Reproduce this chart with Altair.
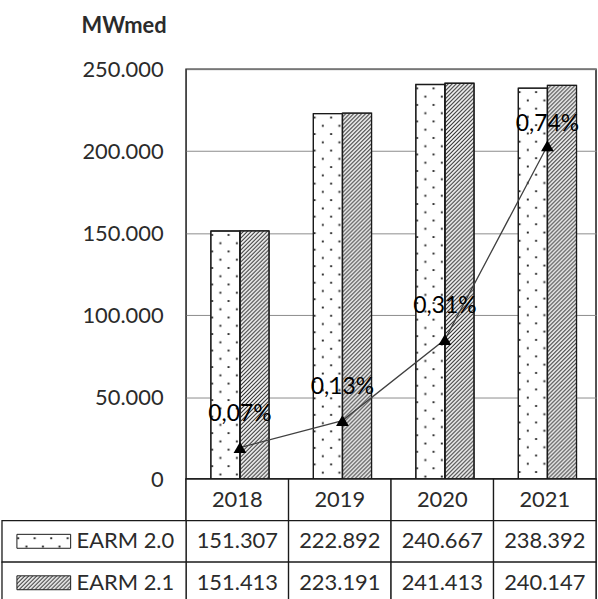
import base64
import altair as alt
import pandas as pd

# ---------------- data ----------------
years = ["2018", "2019", "2020", "2021"]
series_names = ["EARM 2.0", "EARM 2.1"]
earm_20 = [151307, 222892, 240667, 238392]
earm_21 = [151413, 223191, 241413, 240147]
diff_pct = [0.07, 0.13, 0.31, 0.74]
y_ticks = [0, 50000, 100000, 150000, 200000, 250000]
y_title = "MWmed"

# ---------------- style ----------------
FONT = "Lato"
FS = 22
TXT = "#2b2b2b"
INK = "#1a1a1a"


def svg_uri(body):
    svg = '<svg xmlns="http://www.w3.org/2000/svg" width="100%" height="100%">' + body + "</svg>"
    return "data:image/svg+xml;base64," + base64.b64encode(svg.encode()).decode()


DOTS = svg_uri(
    '<defs><pattern id="p" x="0" y="0" width="16.6" height="16.6" patternUnits="userSpaceOnUse">'
    '<rect x="0.3" y="3" width="1.9" height="1.9" fill="#1f1f1f"/>'
    '<rect x="8.6" y="11.3" width="1.9" height="1.9" fill="#1f1f1f"/>'
    '</pattern></defs><rect width="100%" height="100%" fill="url(#p)"/>'
)
HATCH = svg_uri(
    '<defs><pattern id="h" x="0" y="0" width="4" height="4" patternUnits="userSpaceOnUse">'
    '<path d="M-1,1 L1,-1 M0,4 L4,0 M3,5 L5,3" stroke="#1f1f1f" stroke-width="1.05"/>'
    '</pattern></defs><rect width="100%" height="100%" fill="url(#h)"/>'
)
PATTERNS = {series_names[0]: DOTS, series_names[1]: HATCH}

bars_df = pd.DataFrame({
    "year": years * 2,
    "series": [series_names[0]] * len(years) + [series_names[1]] * len(years),
    "value": earm_20 + earm_21,
})
line_df = pd.DataFrame({"year": years, "pct": diff_pct})

# ---------------- main plot ----------------
x_scale = alt.Scale(domain=years, paddingInner=0.432, paddingOuter=0.216, align=0.56)
x_top = alt.X("year:N", scale=x_scale, axis=None)
x_off = alt.XOffset("series:N", scale=alt.Scale(domain=series_names, paddingInner=0, paddingOuter=0))
y_scale = alt.Scale(domain=[0, 250000], nice=False)
y_axis = alt.Axis(
    values=y_ticks,
    labelExpr="replace(format(datum.value, ','), ',', '.')",
    title=y_title, titleAngle=0, titleAlign="right", titleBaseline="middle",
    titleX=-20, titleY=-44, titleFont=FONT, titleFontSize=FS, titleFontWeight="bold",
    titleColor=TXT, labelFont=FONT, labelFontSize=FS, labelColor=TXT,
    labelPadding=23, ticks=False, domain=False, grid=True,
    gridColor="#8c8c8c", gridWidth=1,
)
bar_enc = dict(
    x=x_top, xOffset=x_off,
    y=alt.Y("value:Q", scale=y_scale, axis=y_axis),
    y2=alt.datum(0),
)

bars_fill = alt.Chart(bars_df).mark_bar(fill="white", stroke=INK, strokeWidth=1).encode(**bar_enc)
bar_imgs = [
    alt.Chart(bars_df)
    .transform_filter(alt.datum.series == s)
    .mark_image(aspect=False)
    .encode(**bar_enc, url=alt.value(PATTERNS[s]))
    for s in series_names
]
bars_outline = alt.Chart(bars_df).mark_bar(fillOpacity=0, stroke=INK, strokeWidth=1.3).encode(**bar_enc)

pct_scale = alt.Scale(domain=[0, 0.91], nice=False)
lbase = alt.Chart(line_df).encode(
    x=alt.X("year:N", scale=x_scale, axis=None),
    y=alt.Y("pct:Q", scale=pct_scale, axis=None),
)
line = lbase.mark_line(color="#404040", strokeWidth=1.3)
pts = lbase.mark_point(shape="triangle-up", filled=True, size=165, color="black", opacity=1)
lab_expr = "replace(format(datum.pct, '.2f'), '.', ',') + '%'"
labels_a = (
    lbase.transform_filter(alt.datum.year != years[-1])
    .transform_calculate(lbl=lab_expr)
    .mark_text(dy=-34, font=FONT, fontSize=23, color="black")
    .encode(text="lbl:N")
)
labels_b = (
    lbase.transform_filter(alt.datum.year == years[-1])
    .transform_calculate(lbl=lab_expr)
    .mark_text(dy=-22, font=FONT, fontSize=23, color="black")
    .encode(text="lbl:N")
)

top = (
    alt.layer(
        alt.layer(bars_fill, *bar_imgs, bars_outline),
        alt.layer(line, pts, labels_a, labels_b),
    )
    .resolve_scale(y="independent")
    .properties(width=412, height=412)
)

# ---------------- data table ----------------
row_keys = ["header"] + series_names
cells = [{"year": y, "row": "header", "txt": y} for y in years]
for s, vals in zip(series_names, [earm_20, earm_21]):
    for y, v in zip(years, vals):
        cells.append({"year": y, "row": s, "txt": f"{v:,}".replace(",", ".")})
cells_df = pd.DataFrame(cells)
leg_df = pd.DataFrame({"row": series_names})

xt = alt.X("year:N", scale=alt.Scale(domain=years, paddingInner=0, paddingOuter=0), axis=None)
yt = alt.Y("row:N", scale=alt.Scale(domain=row_keys, paddingInner=0, paddingOuter=0), axis=None)

cell_rects = alt.Chart(cells_df).mark_rect(fill="white", stroke=INK, strokeWidth=1.3).encode(x=xt, y=yt)
cell_text = alt.Chart(cells_df).mark_text(font=FONT, fontSize=FS, color=TXT).encode(x=xt, y=yt, text="txt:N")
leg_cells = alt.Chart(leg_df).mark_rect(fill="white", stroke=INK, strokeWidth=1.3).encode(
    x=alt.value(-185), x2=alt.value(0), y=yt
)
sw_imgs = [
    alt.Chart(leg_df)
    .transform_filter(alt.datum.row == s)
    .mark_image(height=14, aspect=False)
    .encode(x=alt.value(-170), x2=alt.value(-116), y=yt, url=alt.value(PATTERNS[s]))
    for s in series_names
]
sw_outline = alt.Chart(leg_df).mark_rect(height=14, fillOpacity=0, stroke=INK, strokeWidth=1).encode(
    x=alt.value(-170), x2=alt.value(-116), y=yt
)
leg_text = alt.Chart(leg_df).mark_text(align="left", font=FONT, fontSize=FS, color=TXT).encode(
    x=alt.value(-110), y=yt, text="row:N"
)

table = alt.layer(cell_rects, cell_text, leg_cells, *sw_imgs, sw_outline, leg_text).properties(
    width=412, height=125
)

chart = (
    alt.vconcat(top, table, spacing=0, bounds="flush")
    .properties(padding={"left": 0, "top": 12, "right": 0, "bottom": 0})
    .configure_view(stroke=INK, strokeWidth=1.5)
)

chart.save("out.html", embed_options={"renderer": "svg", "actions": False})
